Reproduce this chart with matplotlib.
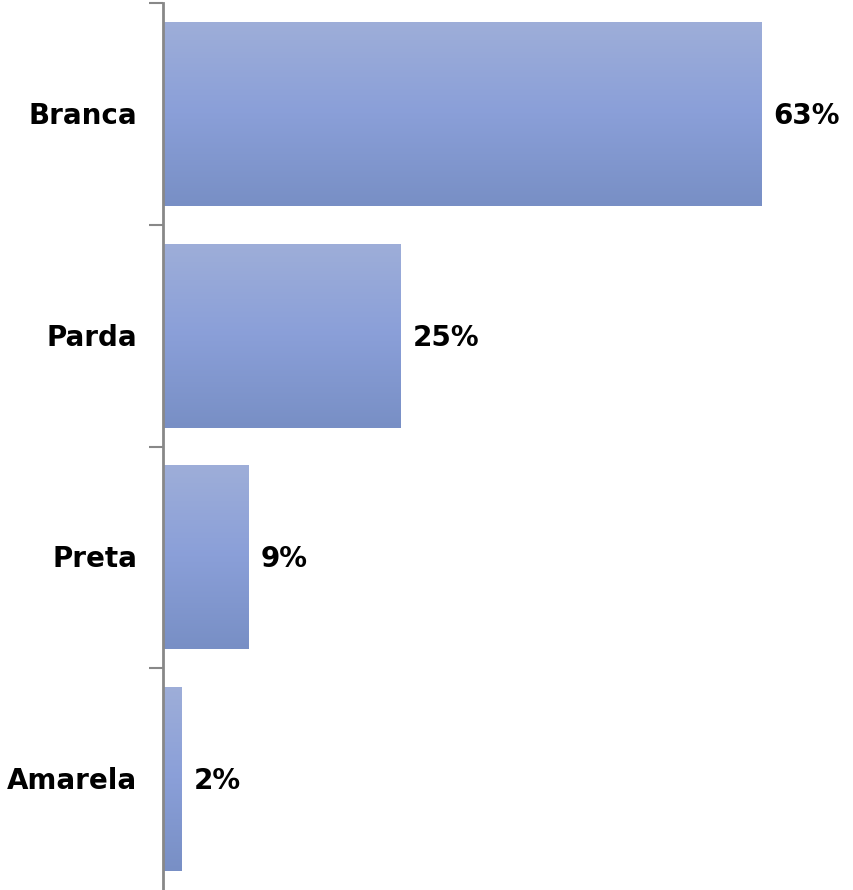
import numpy as np
import matplotlib
matplotlib.use("Agg")
import matplotlib.pyplot as plt
from matplotlib.colors import LinearSegmentedColormap

categories = ["Branca", "Parda", "Preta", "Amarela"]
values = [63, 25, 9, 2]
labels = ["63%", "25%", "9%", "2%"]

fig = plt.figure(figsize=(8.54, 8.90), dpi=100)
W, H = 854, 890
ax = fig.add_axes([163 / W, 0, 1 - 163 / W, (H - 3) / H])

ypos = np.arange(len(categories))
bars = ax.barh(ypos, values, height=0.83, color="none", edgecolor="none")

cmap = LinearSegmentedColormap.from_list(
    "grad", [(0.0, "#9eaed9"), (0.5, "#8a9fd8"), (1.0, "#788fc5")])
grad = np.linspace(0, 1, 256).reshape(-1, 1)
for b in bars:
    x0, y0 = b.get_x(), b.get_y()
    w, h = b.get_width(), b.get_height()
    im = ax.imshow(grad, cmap=cmap, aspect="auto",
                   extent=[x0, x0 + w, y0 + h, y0], origin="upper", zorder=2)
    im.set_clip_path(b)

ppu = 9.5  # pixels per x unit
ax.set_xlim(0, 691 / ppu)
ax.set_ylim(3.5, -0.5)
band = (H - 3) / 4.0
dy = 10 / band  # baseline offset below center

for y, v, lab in zip(ypos, values, labels):
    ax.text(v + 12 / ppu, y + dy, lab, va="baseline", ha="left",
            fontsize=20, fontweight="bold", color="black")

ax.set_yticks(np.arange(-0.5, 3.0, 1.0))
ax.set_yticklabels([])
ax.tick_params(axis="y", length=10, width=1.5, color="#888888", direction="out")
for y, c in zip(ypos, categories):
    ax.text(-26 / ppu, y + dy, c, va="baseline", ha="right",
            fontsize=20, fontweight="bold", color="black")

ax.set_xticks([])
for s in ["top", "right", "bottom"]:
    ax.spines[s].set_visible(False)
ax.spines["left"].set_color("#888888")
ax.spines["left"].set_linewidth(2)
ax.patch.set_alpha(0)

fig.savefig("out.png", dpi=100)
